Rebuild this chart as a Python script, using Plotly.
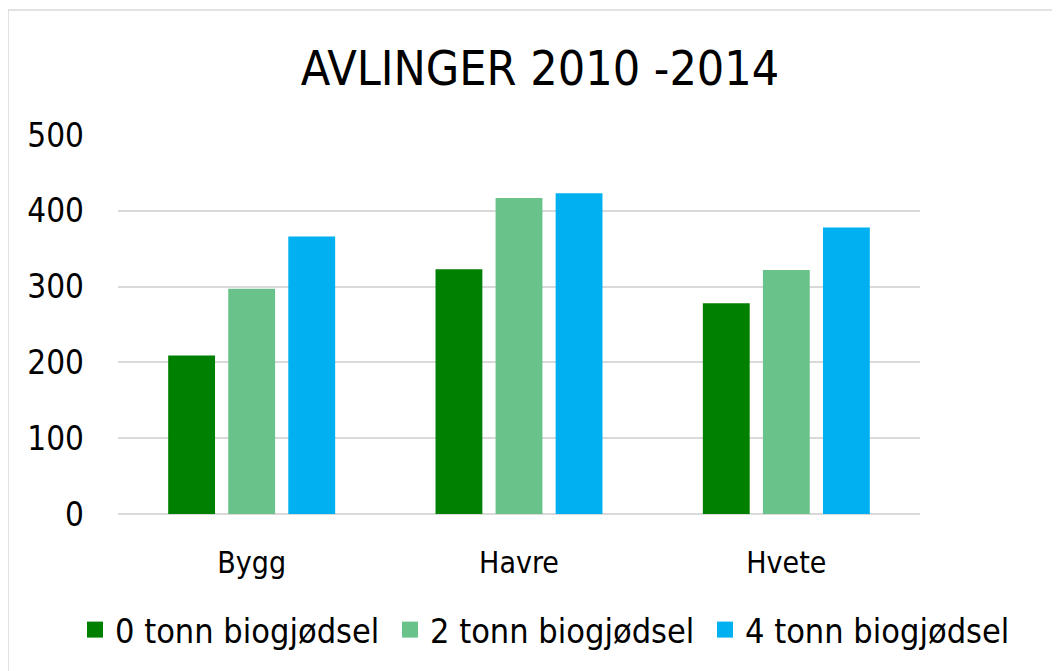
import plotly.graph_objects as go

categories = ["Bygg", "Havre", "Hvete"]
series_names = ["0 tonn biogjødsel", "2 tonn biogjødsel", "4 tonn biogjødsel"]
vals_0 = [209, 323, 278]
vals_2 = [297, 417, 322]
vals_4 = [366, 423, 378]
colors = ["#008000", "#69C28A", "#00B0F0"]
tick_vals = [0, 100, 200, 300, 400, 500]

FONT = "Liberation Sans Narrow, DejaVu Sans Condensed, Arial Narrow, sans-serif"

fig = go.Figure()
for name, vals, col in zip(series_names, [vals_0, vals_2, vals_4], colors):
    fig.add_trace(go.Bar(x=categories, y=vals, name=name, showlegend=False,
                         marker=dict(color=col, line=dict(width=0))))
# legend entries with larger square swatches
for name, col in zip(series_names, colors):
    fig.add_trace(go.Scatter(x=[None], y=[None], mode="markers", name=name,
                             marker=dict(symbol="square", size=20, color=col)))

# page body offset of 8px compensated
OFF = 8
W, H = 1060 - OFF, 671 - OFF
T, B = 135 - OFF, 157
ph = H - T - B


def px(x):
    return (x - OFF) / W


def py(y):
    return (514 - y) / ph


fig.update_layout(
    width=W, height=H,
    margin=dict(l=0, r=0, t=T, b=B, autoexpand=False),
    paper_bgcolor="white", plot_bgcolor="white",
    barmode="group", bargap=0.326, bargroupgap=0.22,
    font=dict(family=FONT, color="#000000", size=30),
    title=dict(text="AVLINGER 2010 -2014", x=(540 - OFF) / W, xanchor="center",
               y=1 - (68 - OFF) / H, yanchor="middle",
               font=dict(family=FONT, size=48, color="#000000")),
    xaxis=dict(domain=[px(118), px(920)], showgrid=False, showline=False,
               ticks="", zeroline=False,
               tickfont=dict(size=30), ticklabelstandoff=28),
    yaxis=dict(range=[0, 500], tickvals=tick_vals, showgrid=True,
               gridcolor="#D9D9D9", gridwidth=1.5, zeroline=True,
               zerolinecolor="#D9D9D9", zerolinewidth=1.5,
               tickfont=dict(size=33), ticklabelstandoff=33),
    legend=dict(orientation="h", x=px(75), xanchor="left",
                y=py(630), yanchor="middle",
                bgcolor="rgba(0,0,0,0)", entrywidth=270, entrywidthmode="pixels",
                font=dict(size=34), itemwidth=30, traceorder="normal"),
    showlegend=True,
)

# chart border (top and left visible)
fig.add_shape(type="line", xref="paper", yref="paper", x0=px(8), x1=px(1060),
              y0=py(10), y1=py(10), line=dict(color="#D9D9D9", width=1.5))
fig.add_shape(type="line", xref="paper", yref="paper", x0=px(8), x1=px(8),
              y0=py(10), y1=py(671), line=dict(color="#D9D9D9", width=1.5))

fig.write_html("out.html")
